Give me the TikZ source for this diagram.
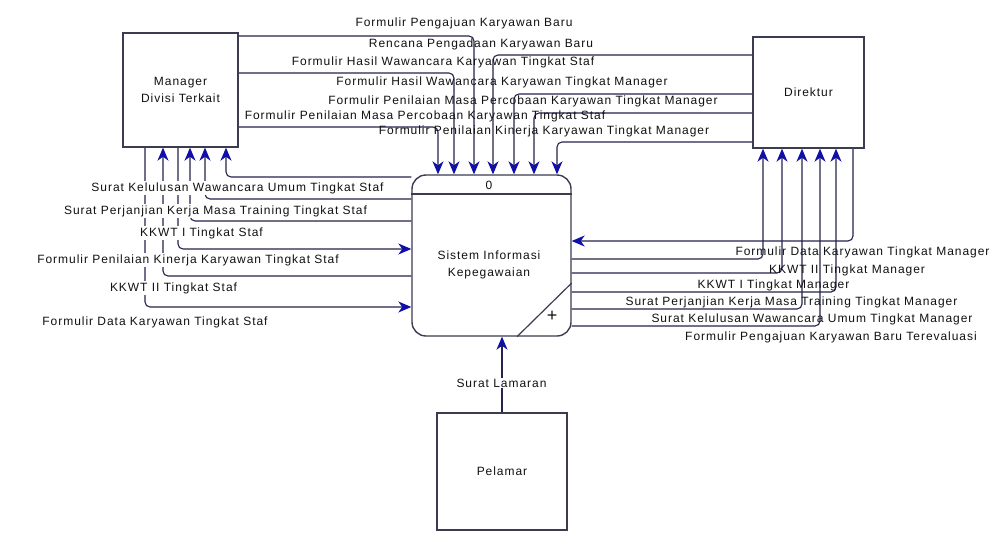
\documentclass[tikz,border=0pt]{standalone}
\usepackage{fontspec}
\setmainfont{Liberation Sans}
\newfontfamily\lblfont[LetterSpace=8]{Liberation Sans}
\usetikzlibrary{arrows.meta}
\definecolor{flowc}{HTML}{24244E}
\definecolor{tipc}{HTML}{1010A8}
\definecolor{boxc}{HTML}{3C3C50}
\definecolor{txtc}{HTML}{111111}
\pgfdeclarelayer{bg}
\pgfsetlayers{bg,main}
\tikzset{
  ent/.style={draw=boxc, line width=1.4pt, fill=white, align=center, text=txtc,
    font=\lblfont\fontsize{12}{17}\selectfont},
  procbox/.style={draw=boxc, line width=1.4pt, fill=white, rounded corners=14pt},
  fa/.style={draw=flowc, line width=1.1pt, rounded corners=5pt,
    -{Stealth[length=13pt,width=11pt,inset=4pt,line width=1pt,color=tipc,fill=tipc]}},
  lbl/.style={font=\lblfont\fontsize{12}{13}\selectfont, inner sep=1pt, text=txtc},
  lblw/.style={lbl, fill=white},
  sep/.style={draw=boxc, line width=1.2pt},
}
\begin{document}
\begin{tikzpicture}[x=1pt,y=-1pt]
\useasboundingbox (0,0) rectangle (995,536);

% entities and process
\node[ent, minimum width=115pt, minimum height=114pt] (mgr) at (180.5,90) {Manager\\Divisi Terkait};
\node[ent, minimum width=111pt, minimum height=111pt] (dir) at (808.5,92.5) {Direktur};
\node[ent, minimum width=130pt, minimum height=117pt] (pel) at (502,471.5) {Pelamar};
\node[procbox, minimum width=159pt, minimum height=161pt] (proc) at (491.5,255.5) {};
\node[lbl, align=center, font=\lblfont\fontsize{12}{17}\selectfont] (procl) at (489,265) {Sistem Informasi\\Kepegawaian};
\node[lbl] (pnum) at (489,185) {0};
\draw[sep] (proc.west |- 0,194) -- (proc.east |- 0,194);
\draw[sep] (proc.east |- 0,283) -- (517,0 |- proc.south);
\node[lbl, font=\fontsize{18}{18}\selectfont] (plus) at (552,316) {+};

% flows
\begin{pgfonlayer}{bg}
\fill[white] (0,0) rectangle (995,536);
% Manager -> process (top)
\draw[fa] (mgr.east |- 0,36) -| (474,0 |- proc.north);
\draw[fa] (mgr.east |- 0,73) -| (454,0 |- proc.north);
\draw[fa] (mgr.east |- 0,127) -| (438,0 |- proc.north);
% Direktur -> process (top)
\draw[fa] (dir.west |- 0,55) -| (493,0 |- proc.north);
\draw[fa] (dir.west |- 0,94) -| (514,0 |- proc.north);
\draw[fa] (dir.west |- 0,113) -| (534,0 |- proc.north);
\draw[fa] (dir.west |- 0,142) -| (557,0 |- proc.north);
% process -> Manager
\draw[fa] (proc.west |- 0,177) -| (226,0 |- mgr.south);
\draw[fa] (proc.west |- 0,199) -| (205,0 |- mgr.south);
\draw[fa] (proc.west |- 0,221) -| (190,0 |- mgr.south);
\draw[fa] (proc.west |- 0,276) -| (163,0 |- mgr.south);
% Manager -> process
\draw[fa] (178,0 |- mgr.south) |- (proc.west |- 0,249);
\draw[fa] (145,0 |- mgr.south) |- (proc.west |- 0,307);
% Direktur -> process
\draw[fa] (853,0 |- dir.south) |- (proc.east |- 0,241);
% process -> Direktur
\draw[fa] (proc.east |- 0,259) -| (763,0 |- dir.south);
\draw[fa] (proc.east |- 0,273) -| (782,0 |- dir.south);
\draw[fa] (proc.east |- 0,292) -| (836,0 |- dir.south);
\draw[fa] (proc.east |- 0,309) -| (802,0 |- dir.south);
\draw[fa] (proc.east |- 0,326) -| (820,0 |- dir.south);
% Pelamar -> process
\draw[fa] (pel.north) -- (502,0 |- proc.south);
\end{pgfonlayer}

% labels top
\node[lbl] (l1) at (464,23) {Formulir Pengajuan Karyawan Baru};
\node[lbl] (l2) at (481,44) {Rencana Pengadaan Karyawan Baru};
\node[lbl] (l3) at (443,62) {Formulir Hasil Wawancara Karyawan Tingkat Staf};
\node[lbl] (l4) at (502,82) {Formulir Hasil Wawancara Karyawan Tingkat Manager};
\node[lbl] (l5) at (523,101) {Formulir Penilaian Masa Percobaan Karyawan Tingkat Manager};
\node[lbl] (l6) at (425,116) {Formulir Penilaian Masa Percobaan Karyawan Tingkat Staf};
\node[lbl] (l7) at (544,131) {Formulir Penilaian Kinerja Karyawan Tingkat Manager};
% labels left
\node[lblw] (m1) at (237.5,188) {Surat Kelulusan Wawancara Umum Tingkat Staf};
\node[lblw] (m2) at (215.5,211) {Surat Perjanjian Kerja Masa Training Tingkat Staf};
\node[lblw] (m3) at (201.5,233) {KKWT I Tingkat Staf};
\node[lblw] (m4) at (188,260) {Formulir Penilaian Kinerja Karyawan Tingkat Staf};
\node[lblw] (m5) at (173.5,288) {KKWT II Tingkat Staf};
\node[lblw] (m6) at (155,322) {Formulir Data Karyawan Tingkat Staf};
% labels right
\node[lbl] (r1) at (862.5,252) {Formulir Data Karyawan Tingkat Manager};
\node[lbl] (r2) at (847,270) {KKWT II Tingkat Manager};
\node[lbl] (r3) at (773.5,285) {KKWT I Tingkat Manager};
\node[lbl] (r4) at (791.5,302) {Surat Perjanjian Kerja Masa Training Tingkat Manager};
\node[lbl] (r5) at (812,319) {Surat Kelulusan Wawancara Umum Tingkat Manager};
\node[lbl] (r6) at (831,337) {Formulir Pengajuan Karyawan Baru Terevaluasi};
% label bottom
\node[lblw] (b1) at (501.5,383) {Surat Lamaran};
\end{tikzpicture}
\end{document}
